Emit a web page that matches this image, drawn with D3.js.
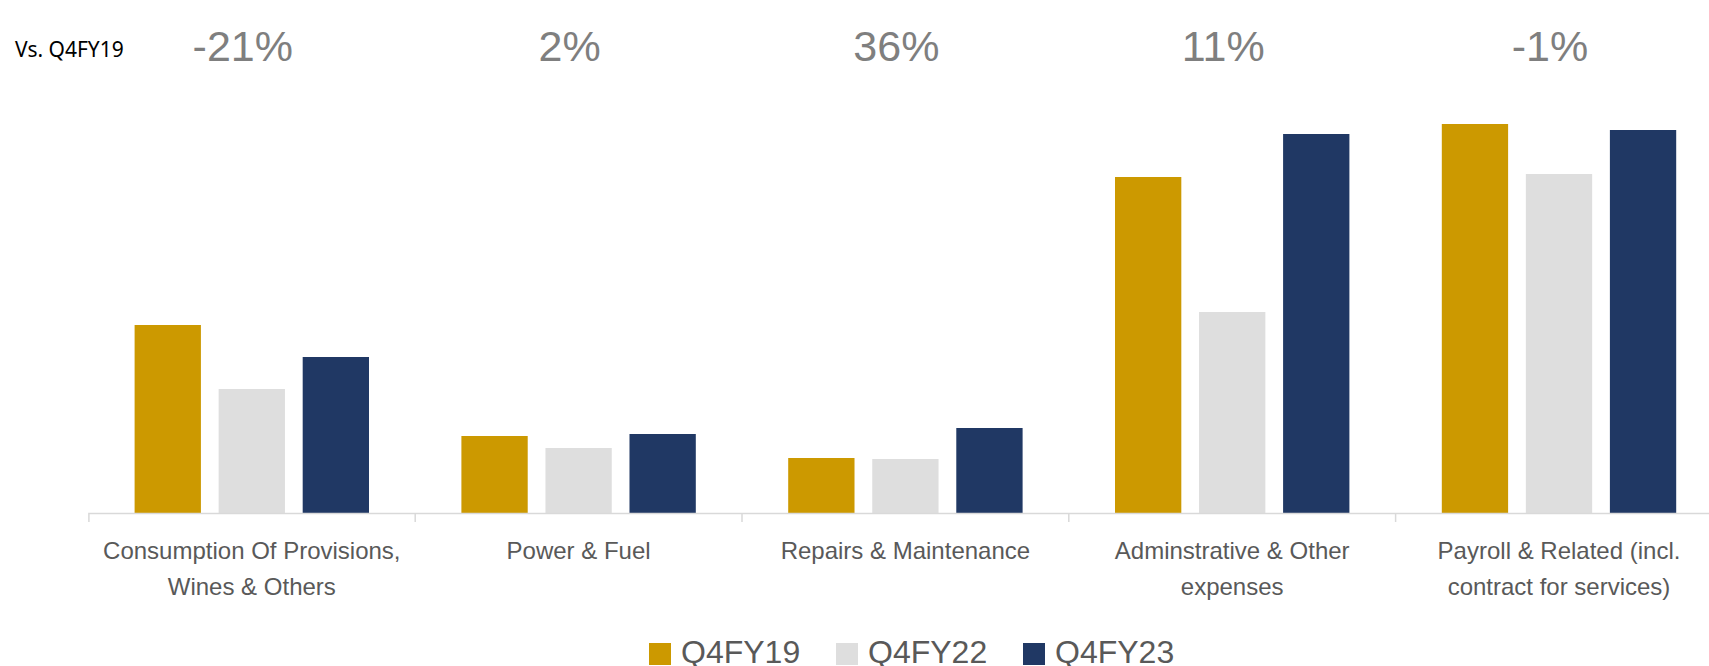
<!DOCTYPE html>
<html>
<head>
<meta charset="utf-8">
<script src="https://cdn.jsdelivr.net/npm/d3@7"></script>
<style>
  html, body { margin: 0; padding: 0; background: #fff; }
  svg { display: block; }
</style>
</head>
<body>
<svg id="chart"></svg>
<script>
'use strict'

// values (no y axis in the original, units are relative)
const categories = [
  'Consumption Of Provisions, Wines & Others',
  'Power & Fuel',
  'Repairs & Maintenance',
  'Adminstrative & Other expenses',
  'Payroll & Related (incl. contract for services)'
]
const seriesNames = ['Q4FY19', 'Q4FY22', 'Q4FY23']
const q4fy19 = [188, 77, 55, 336, 389]
const q4fy22 = [124, 65, 54, 201, 339]
const q4fy23 = [156, 79, 85, 379, 383]
const changeLabels = ['-21%', '2%', '36%', '11%', '-1%']
const compareLabel = 'Vs. Q4FY19'

const colors = ['#CC9900', '#DEDEDE', '#203864']

;(function (d3) {
  const width = 1709
  const height = 666
  const margin = { left: 88.4, top: 113, baseline: 513 }
  const bandWidth = 326.8

  const svg = d3.select('#chart')
    .attr('width', width)
    .attr('height', height)

  const seriesValues = [q4fy19, q4fy22, q4fy23]
  const data = categories.map((c, i) => ({
    category: c,
    values: seriesNames.map((s, j) => ({ key: s, value: seriesValues[j][i] }))
  }))

  let x0 = d3.scaleBand()
    .domain(categories)
    .range([margin.left, margin.left + bandWidth * categories.length])
    .padding(0)

  let x1 = d3.scaleBand()
    .domain(seriesNames)
    .range([46.2, bandWidth - 46.2])
    .paddingInner(0.211)

  let y = d3.scaleLinear()
    .domain([0, 400])
    .range([margin.baseline, margin.top])

  let color = d3.scaleOrdinal()
    .domain(seriesNames)
    .range(colors)

  // bars
  svg.append('g')
    .selectAll('g')
    .data(data)
    .enter()
    .append('g')
      .attr('transform', d => 'translate(' + x0(d.category) + ',0)')
    .selectAll('rect')
    .data(d => d.values)
    .enter()
    .append('rect')
      .attr('x', d => x1(d.key))
      .attr('width', x1.bandwidth())
      .attr('y', d => y(d.value))
      .attr('height', d => y(0) - y(d.value))
      .attr('fill', d => color(d.key))

  // x axis, tick marks sit between the categories
  let axis = svg.append('g')
    .attr('class', 'x axis')
    .attr('transform', 'translate(0,' + margin.baseline + ')')
    .call(d3.axisBottom(x0).tickSize(0).tickSizeOuter(9).tickFormat(''))

  axis.select('.domain')
    .attr('stroke', '#D9D9D9')
    .attr('stroke-width', 1.5)

  axis.selectAll('.sep')
    .data(categories.slice(1))
    .enter()
    .append('line')
      .attr('class', 'sep')
      .attr('x1', d => x0(d))
      .attr('x2', d => x0(d))
      .attr('y1', 0)
      .attr('y2', 9)
      .attr('stroke', '#D9D9D9')
      .attr('stroke-width', 1.5)

  // category labels, wrapped
  let labels = svg.append('g')
    .selectAll('text')
    .data(categories)
    .enter()
    .append('text')
      .attr('x', d => x0(d) + x0.bandwidth() / 2)
      .attr('y', 559)
      .attr('text-anchor', 'middle')
      .attr('font-family', '"Liberation Sans", Arial, sans-serif')
      .attr('font-size', 24)
      .attr('fill', '#595959')
      .text(d => d)

  labels.each(function () { wrap(d3.select(this), 305, 35.5) })

  // change vs Q4FY19 on top
  svg.append('g')
    .selectAll('text')
    .data(changeLabels)
    .enter()
    .append('text')
      .attr('x', (d, i) => x0(categories[i]) + x0.bandwidth() / 2 - 9)
      .attr('y', 61)
      .attr('text-anchor', 'middle')
      .attr('font-family', '"Liberation Sans", Arial, sans-serif')
      .attr('font-size', 43)
      .attr('fill', '#7F7F7F')
      .text(d => d)

  svg.append('text')
    .attr('x', 15)
    .attr('y', 57)
    .attr('font-family', '"Noto Sans", Calibri, sans-serif')
    .attr('font-size', 21)
    .attr('fill', '#000')
    .text(compareLabel)

  // legend
  let legend = svg.append('g')
    .attr('transform', 'translate(649,643)')

  let item = legend.selectAll('g')
    .data(seriesNames)
    .enter()
    .append('g')
      .attr('transform', (d, i) => 'translate(' + (i * 187) + ',0)')

  item.append('rect')
    .attr('width', 22)
    .attr('height', 22)
    .attr('fill', d => color(d))

  item.append('text')
    .attr('x', 32)
    .attr('y', 19.5)
    .attr('font-family', '"Liberation Sans", Arial, sans-serif')
    .attr('font-size', 32)
    .attr('fill', '#595959')
    .text(d => d)

  function wrap (text, maxWidth, lineHeight) {
    let words = text.text().split(/\s+/)
    let x = text.attr('x')
    let line = []
    text.text(null)
    let tspan = text.append('tspan').attr('x', x).attr('dy', 0)
    words.forEach(w => {
      line.push(w)
      tspan.text(line.join(' '))
      if (tspan.node().getComputedTextLength() > maxWidth && line.length > 1) {
        line.pop()
        tspan.text(line.join(' '))
        line = [w]
        tspan = text.append('tspan').attr('x', x).attr('dy', lineHeight).text(w)
      }
    })
  }
})(d3)
</script>
</body>
</html>
